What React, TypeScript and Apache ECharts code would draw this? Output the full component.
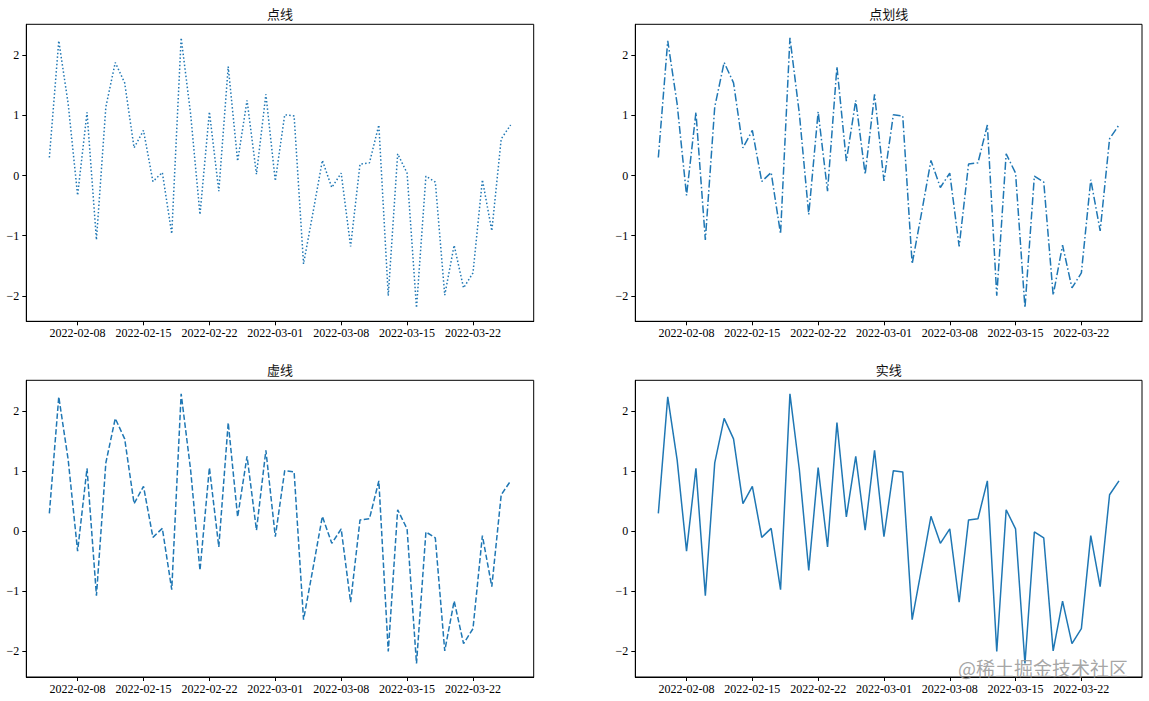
import React, { useEffect, useRef } from "react";
import * as echarts from "echarts";

const START_DATE = "2022-02-05";
const VALUES = [
  0.30, 2.24, 1.19, -0.33, 1.05, -1.07, 1.14, 1.88, 1.54, 0.46,
  0.75, -0.10, 0.05, -0.97, 2.29, 1.03, -0.65, 1.06, -0.26, 1.81,
  0.24, 1.25, 0.02, 1.35, -0.09, 1.01, 0.99, -1.47, -0.62, 0.25,
  -0.20, 0.04, -1.18, 0.19, 0.21, 0.84, -2.00, 0.36, 0.04, -2.20,
  -0.01, -0.11, -1.99, -1.16, -1.87, -1.62, -0.07, -0.92, 0.61, 0.84,
];
const X_TICK_LABELS = [
  "2022-02-08", "2022-02-15", "2022-02-22", "2022-03-01",
  "2022-03-08", "2022-03-15", "2022-03-22",
];
const Y_TICKS = [-2, -1, 0, 1, 2];
const TITLES = ["点线", "点划线", "虚线", "实线"];
const WATERMARK = "@稀土掘金技术社区";

const DAY = 86400000;
const dayIndex = (s: string) => Math.round((Date.parse(s) - Date.parse(START_DATE)) / DAY);
const xTickValues = X_TICK_LABELS.map(dayIndex);

const COLOR = "#1f77b4";
const SERIF = "'Liberation Serif', 'DejaVu Serif', serif";
const CJK = "'Noto Sans CJK SC', sans-serif";

const GRIDS = [
  { left: 26.3, top: 24.3, width: 507.4, height: 297 },
  { left: 635.3, top: 24.3, width: 506.7, height: 297 },
  { left: 26.3, top: 380.3, width: 507.4, height: 296.7 },
  { left: 635.3, top: 380.3, width: 506.7, height: 296.7 },
];
const DASHES: any[] = [[1.5, 2.2], [8, 2.5, 1.5, 2.5], [5.5, 2.4], "solid"];

export default function App() {
  const ref = useRef<HTMLDivElement>(null);
  useEffect(() => {
    if (!ref.current) return;
    const chart = echarts.init(ref.current, null, { renderer: "svg" });
    const n = VALUES.length;
    const span = n - 1;
    const xMin = -0.05 * span;
    const xMax = span + 0.05 * span;
    const vMin = Math.min(...VALUES);
    const vMax = Math.max(...VALUES);
    const r = vMax - vMin;
    const yMin = vMin - 0.05 * r;
    const yMax = vMax + 0.05 * r;
    const data = VALUES.map((v, i) => [i, v]);

    const grid = GRIDS.map((g) => ({
      ...g,
      show: true,
      borderColor: "#000",
      borderWidth: 1,
      backgroundColor: "#fff",
      containLabel: false,
    }));
    const xAxis = GRIDS.map((_, i) => ({
      type: "value",
      gridIndex: i,
      min: xMin,
      max: xMax,
      splitLine: { show: false },
      axisLine: { show: true, onZero: false, lineStyle: { color: "#000", width: 1 } },
      axisTick: { show: true, inside: false, length: 4, lineStyle: { color: "#000" }, customValues: xTickValues },
      axisLabel: {
        show: true,
        customValues: xTickValues,
        margin: 6,
        color: "#000",
        fontFamily: SERIF,
        fontSize: 12,
        formatter: (v: number) => {
          const k = xTickValues.indexOf(Math.round(v));
          return k >= 0 ? X_TICK_LABELS[k] : "";
        },
      },
    }));
    const yAxis = GRIDS.map((_, i) => ({
      type: "value",
      gridIndex: i,
      min: yMin,
      max: yMax,
      splitLine: { show: false },
      axisLine: { show: true, onZero: false, lineStyle: { color: "#000", width: 1 } },
      axisTick: { show: true, inside: false, length: 4, lineStyle: { color: "#000" }, customValues: Y_TICKS },
      axisLabel: {
        show: true,
        customValues: Y_TICKS,
        margin: 7,
        color: "#000",
        fontFamily: SERIF,
        fontSize: 12,
        formatter: (v: number) => (v < 0 ? "\u2212" + Math.abs(v) : String(v)),
      },
    }));
    const series = GRIDS.map((_, i) => ({
      type: "line",
      xAxisIndex: i,
      yAxisIndex: i,
      data,
      symbol: "none",
      showSymbol: false,
      lineStyle: { color: COLOR, width: 1.5, type: DASHES[i], cap: "butt" },
      silent: true,
    }));
    const titleY = [13.5, 13.5, 369.5, 369.5];
    const graphic: any[] = GRIDS.map((g, i) => ({
      type: "text",
      x: g.left + g.width / 2,
      y: titleY[i],
      style: {
        text: TITLES[i],
        fill: "#111",
        font: `13px ${CJK}`,
        textAlign: "center",
        textVerticalAlign: "middle",
      },
      z: 100,
    }));
    graphic.push({
      type: "text",
      x: 1128,
      y: 667,
      style: {
        text: WATERMARK,
        fill: "rgba(150,150,150,0.85)",
        font: `19px ${CJK}`,
        textAlign: "right",
        textVerticalAlign: "middle",
      },
      z: 100,
    });

    chart.setOption({
      animation: false,
      backgroundColor: "#fff",
      grid,
      xAxis,
      yAxis,
      series,
      graphic,
    });
    return () => chart.dispose();
  }, []);
  return (
    <div
      ref={ref}
      style={{ position: "absolute", left: 0, top: 0, width: 1149, height: 701 }}
    />
  );
}
